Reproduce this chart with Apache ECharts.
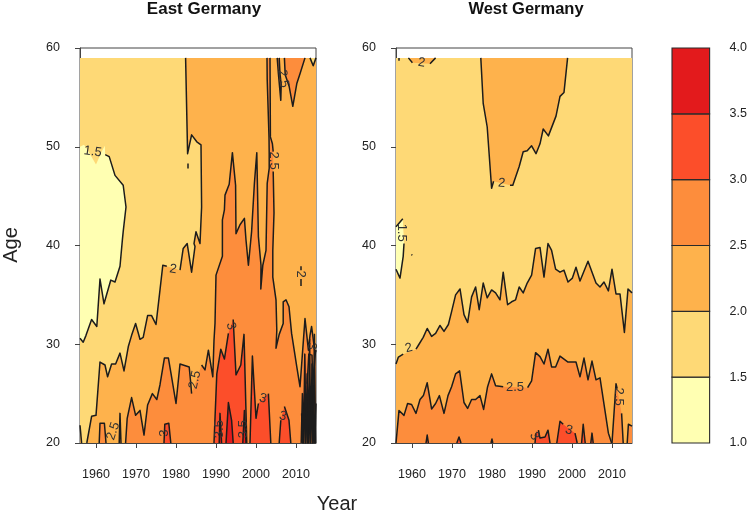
<!DOCTYPE html>
<html><head><meta charset="utf-8">
<style>html,body{margin:0;padding:0;background:#fff}#c{width:750px;height:514px}</style>
<script src="https://cdn.jsdelivr.net/npm/echarts@6/dist/echarts.min.js"></script>
</head><body><div id="c"></div>
<script>
const G = null; // gap in a contour line, where a label sits
const levels = [1, 1.5, 2, 2.5, 3, 3.5, 4];
const colors = ['#FFFFB2', '#FED976', '#FEB24C', '#FD8D3C', '#FC4E2A', '#E31A1C'];
const xTicks = [1960, 1970, 1980, 1990, 2000, 2010];

// ---------- East Germany contours [year, age] ----------
const e15Teeth = [[1956,50],[1957,50.2],[1958,49.6],[1960,48.2],[1961.4,49.5],[1962.2,50.1]];
const e15 = [[1962.3,49.2],[1963.3,49],[1964.75,47.1],[1966.8,46.1],[1967.5,43.9],[1966.8,41.4],[1966.6,40.6],[1966,37.9],[1964.75,36.3],[1963.7,36.5],[1962,34.1],[1961,36.6],[1960.2,31.8],[1958.9,32.5],[1957.5,30.9],[1956.8,30.2],[1956,30.6]];
const e20 = [[1957.7,20],[1958.9,22.7],[1960,22.8],[1961,28.2],[1962.25,27.9],[1962.9,26.7],[1963.9,28],[1964.9,28],[1966,29.1],[1967,27.3],[1968.1,29.8],[1968.9,30.9],[1969.9,32.1],[1971,30.5],[1971.8,30.7],[1972.9,32.9],[1973.9,32.9],[1975,32],[1976,35.5],[1976.7,38],[1977.7,37.9],G,[1981,37.5],[1981.8,39.7],[1982.8,40.2],[1983.9,37.3],[1984.75,39.9],[1984.5,40.2],[1985,41.4],[1986,40.2],[1986.4,43.9],[1986.25,50.2],[1985.2,50.5],[1983.9,51.2],[1982.9,49.3],[1982.4,59]];
const e20Corner = [[1956,20],[1956.4,20],[1956,21.8]];
const e20Dash = [[1983,48.3],[1983,47.8]];
const e20Island = [[2011.25,37.9],[2011.25,37.5],G,[2011.25,36.6],[2011.25,35.9]];
const e20Notch = [[2013.5,59],[2014.3,58.2],[2015,59]];
const e25a = [[1960.8,20],[1961,22],[1962.1,22],[1962.5,20]];
const e25b = [[1965.8,20],[1966,23],[1966.25,20]];
const e25Main = [[1967.4,20],[1967.8,22.5],[1968.9,24.6],[1969.9,22.8],[1971,23.3],[1972,20.8],[1972.9,23.85],[1974.1,25],[1975.2,24.4],[1976,25.9],[1977.1,28.6],[1978.1,28.6],[1978.75,27.06],[1980,24],[1981,28],[1983.3,27.7],[1983.7,26],[1983.9,25],G,[1986.4,27.9],[1987.25,27.4],[1988.1,29.4],[1989.2,26.7],[1989.5,30.4],[1989.75,32.1],[1990,37],[1991.6,38.9],[1991.6,42.6],[1992.1,43.6],[1992.25,45.1],[1993.3,46.2],[1994.1,49.4],[1994.9,46.1],[1995,41.2],[1996,42.1],[1997.1,42.75],[1997.5,40.55],[1998.1,38],[1998.7,40.56],[1998.9,41.4],[1999.6,46.3],[2000.2,49.4],[2000.6,40.9],[2001.25,38],[2001.2,35.6],[2001.7,38],[2002.5,39.5],[2002.8,46.3],[2003.3,47.8],[2003.3,49.3],[2003.25,51],[2002.8,56.8],[2002.75,59]];
const e25Main2 = [[2003.5,59],[2003.6,51],[2004.1,50.3],[2004.3,49.5],G,[2004.3,47.5],[2004.5,43.3],[2004.2,39.5],[2004.2,36.8],[2005,34.5],[2005.2,31.4],[2005,29.6],[2005.8,31],[2006.8,32.1],[2006.8,34.3],[2007.5,34.5],[2008.25,33.8],[2008.9,31.1],[2010.2,27.7],[2011,25.7],[2012.25,32.6],[2013.1,29.4],[2013.5,30.9],[2013.9,31.8],[2014.75,29.1],[2015,29.4]];
const e25Top1 = [[2005.3,59],[2005.6,57.4],[2006.2,54.7],[2006.3,56.3],[2006,57.4],[2005.8,59]];
const e25Top2 = [[2007.1,59],[2007.3,57.3],[2008.3,56.1],[2009.2,54.1],[2010.2,56.4],[2011,57.4],[2012.25,59]];
const e30a = [[1977,20],[1977.2,21.9],[1978.2,22],[1978.7,20]];
const e30b = [[1989.5,20],[1990.2,27],[1991.2,29.5],[1992.1,28.5],[1993.1,31.1],G,[1994.3,32.5],[1995,26.9],[1996.2,27.9],[1997,31],[1997.7,20]];
const e30c = [[1998.5,20],[1999.1,28.8],[2000,22.5],[2000.6,24],G,[2003.1,25],[2003.7,20]];
const e30d = [[2005.8,20],[2006.2,22.3],G,[2007.1,23.7],[2008.25,22.3],[2008.7,20]];
const e30e = [[2011.8,24],[2012.4,29],[2012.9,24]];
const e30f = [[2013.6,24],[2014,29],[2014.4,24]];
const e35a = [[1990.8,20],[1991,23],[1991.4,20]];
const e35b = [[1992.5,20],[1993.1,24.1],[1993.9,22.3],[1994.3,20]];
const e35c = [[1996.7,20],[1997.1,23.3],[1997.5,20]];
const eMess1 = [[2011.3,20],[2011.6,25],[2011.9,20],[2012.2,29],[2012.5,20],[2012.8,27],[2013.1,20],[2013.4,30.5],[2013.7,20],[2014,28],[2014.3,20],[2014.6,31],[2014.9,20]];
const eMess2 = [[2011.4,23],[2011.7,20],[2012,24],[2012.3,20],[2012.6,23.5],[2012.9,20],[2013.2,25],[2013.5,20],[2013.8,24],[2014.1,20],[2014.4,25],[2014.7,20],[2015,24]];
const eMess3 = [[2012.8,26],[2013.3,25.9],[2013.2,29],[2014,28.9],[2014.2,26],[2014.9,29.4]];
const eLabels = [
  ['1.5',1959.2,49.5,-8],['2',1979.3,37.6,-8],['2.5',1964.3,21.2,72],['2.5',1984.75,26.4,78],
  ['3',1977.1,21,90],['3',1993.7,31.85,-75],['3',2001.7,24.5,-15],['3',2006.7,22.7,-15],
  ['2',2011.25,37.1,-90],['3.5',1990.9,21.4,90],['3.5',1996.8,21.4,90],['2.5',2004.3,48.6,-90],
  ['2.5',2006.8,56.9,-80],['3',2014,29.8,-90]
];

// ---------- West Germany contours [year, age] ----------
const w15 = [[1956,41.9],[1957.7,42.7],G,[1958,40.2],[1957.8,38.9],[1957,36.7],[1956,37.6]];
const w15Dot = [[1959.9,39.1],[1960,39]];
const w20Dot = [[1956.75,59],[1956.75,58.7]];
const w20Spot = [[1959.1,59],[1960.1,58.5],G,[1964.5,58.4],[1965.9,59]];
const w20Top = [[1977.2,59],[1977.8,54.4],[1978.8,52],[1979.9,45.8],[1980.4,46.5],G,[1984.5,46.1],[1985.2,46.1],[1986.8,48],[1987.8,49.5],[1988.8,49.6],[1989.9,50.1],[1991,49.3],[1992,50.3],[1992.8,51.8],[1994.1,51.1],[1996,53.1],[1997,55.1],[1998,55.5],[1998.9,59]];
const w20Low = [[1956,28],[1956.6,28.7],[1957.8,29],G,[1961,29.5],[1961.6,29.9],[1962.8,30.7],[1963.8,31.6],[1964.9,30.8],[1965.9,31.1],[1967,31.9],[1968,31.3],[1969.1,32],[1969.9,33.3],[1970.9,35],[1972,35.6],[1973,33],[1973.9,32.2],[1974.9,34.8],[1975.9,35.8],[1976.8,33.5],[1977.8,36.2],[1978.8,34.7],[1979.9,35.5],[1980.9,35.2],[1982,34.5],[1982.8,37.3],[1983.9,34],[1984.9,34.3],[1985.9,34.5],[1986.8,35.8],[1987.8,35.2],[1988.8,36.2],[1989.9,37],[1990.9,39.7],[1992,39.8],[1993,36.8],[1994,40.2],[1994.9,39.5],[1995.9,37.6],[1997,37.3],[1998,37.5],[1999,36.3],[2000.1,36.7],[2001,37.8],[2002,36.4],[2004,38.4],[2006,36.2],[2007,35.8],[2008,36.3],[2009.1,35.4],[2010,37.6],[2011,35.1],[2012,35.1],[2013.1,31.2],[2014,35.6],[2015,35.2]];
const w25Main = [[1956,20],[1956.75,23.3],[1958,22.8],[1958.9,24],[1959.9,23.9],[1961,23],[1962,24.4],[1962.85,24.8],[1963.8,26.1],[1964.9,23.45],[1965.9,24],[1966.85,24.8],[1968,23],[1969,24.8],[1969.9,25.7],[1970.9,27],[1971.9,27.3],[1973,24.1],[1973.9,23.5],[1974.9,24.4],[1975.9,24.4],[1977,24.8],[1977.9,23.4],[1978.9,25.7],[1979.9,27],[1980.9,25.8],[1982.8,25.7],G,[1988.9,25.6],[1989.9,26.3],[1990.9,29.15],[1992,28.75],[1993,28],[1994,29.5],[1994.9,27.7],[1995.9,27.7],[1997,28.8],[1999,28.2],[2001,28.2],[2002,26.7],[2003,28.6],[2004,26.4],[2005,28.3],[2006,26.4],[2007,26.6],[2009.1,21],[2009.9,20]];
const w25b = [[2010,20],[2011,26],[2011.3,25.5],G,[2012.4,23],[2012.8,20]];
const w25c = [[2013.8,20],[2014.1,21.9],[2015,21.7]];
const w30a = [[1963.5,20],[1963.8,20.8],[1964.1,20]];
const w30b = [[1971.2,20],[1971.75,20.6],[1972.25,20]];
const w30c = [[1979.75,20],[1980,20.4],[1980.2,20]];
const w30d = [[1990.75,20],[1991,21],G,[1991.6,21.3],[1992,20.5],[1993.25,20.6],[1994,21.3],[1994.5,20]];
const w30e = [[1996.2,20],[1997,22.2],[1997.8,21.9],G,[2000.75,21],[2001.3,20]];
const w30f = [[2002.4,20],[2002.8,21.9],[2003.3,20]];
const w30g = [[2004.7,20],[2005,21],[2005.3,20]];
const wLabels = [
  ['1.5',1957.4,41.3,-90],['2',1962.4,58.5,-8],['2',1982.4,46.3,-5],['2',1959.2,29.6,15],
  ['2.5',1985.75,25.6,0],['3',1990.6,20.7,-60],['3',1999.25,21.3,-15],['2.5',2011.7,24.7,-90]
];

const panels = [
  { name:'east', fills:[
      [e15Teeth.concat(e15),0], [e20.concat([[2015,59],[2015,20]]),2], [e20Corner,2], [e20Notch,1],
      [e25a,3], [e25b,3], [e25Main.concat(e25Main2,[[2015,20]]),3], [e25Top1,3], [e25Top2,3],
      [e30a,4], [e30b,4], [e30c,4], [e30d,4], [e30e,4], [e30f,4], [e35a,5], [e35b,5], [e35c,5] ],
    lines:[e15,e20,e20Corner.slice(1),e20Dash,e20Island,e20Notch,e25a,e25b,e25Main,e25Main2,e25Top1,e25Top2,e30a,e30b,e30c,e30d,e35a,e35b,e35c,eMess1,eMess2,eMess3],
    labels:eLabels },
  { name:'west', fills:[
      [w15,0], [w20Low.concat([[2015,20],[1956,20]]),2], [w20Top,2], [w20Spot,2],
      [w25Main,3], [w25b,3], [w25c.concat([[2015,20]]),3],
      [w30a,4], [w30b,4], [w30c,4], [w30d,4], [w30e,4], [w30f,4], [w30g,4] ],
    lines:[w15,w15Dot,w20Dot,w20Spot,w20Top,w20Low,w25Main,w25b,w25c,w30a,w30b,w30c,w30d,w30e,w30f,w30g],
    labels:wLabels }
];

const FONT = '"Liberation Sans", Arial, sans-serif';
const INK = '#1c1c1c';
const series = [];
function polygonSeries(pts, color, axis, stroke) {
  const clean = pts.filter(p => p);
  series.push({ type:'custom', coordinateSystem:'cartesian2d', xAxisIndex:axis, yAxisIndex:axis, silent:true,
    data:clean, encode:{x:0,y:1}, animation:false,
    renderItem:(params, api) => params.dataIndex !== 0 ? null : ({
      type:'polygon', shape:{ points:clean.map(p => api.coord(p)) },
      style:{ fill:color, stroke:stroke||null, lineWidth:stroke?1.1:0 }
    })});
}
panels.forEach((p, i) => {
  polygonSeries([[1956,20],[2015,20],[2015,59],[1956,59]], colors[1], i);
  p.fills.forEach(([pts, c]) => polygonSeries(pts, colors[c], i));
  p.lines.forEach(l => series.push({ type:'line', xAxisIndex:i, yAxisIndex:i, silent:true, animation:false,
    symbol:'none', clip:true, connectNulls:false, z:3,
    lineStyle:{ color:INK, width:1.5, join:'round' },
    data:l.map(q => q ? q : ['-','-']) }));
  series.push({ type:'custom', coordinateSystem:'cartesian2d', xAxisIndex:i, yAxisIndex:i, silent:true, z:4, animation:false,
    data:p.labels.map(l => [l[1], l[2]]), encode:{x:0,y:1},
    renderItem:(params, api) => {
      const l = p.labels[params.dataIndex], c = api.coord([l[1], l[2]]);
      return { type:'text', x:c[0], y:c[1], rotation:l[3]*Math.PI/180,
        style:{ text:l[0], fontSize:13, fontFamily:FONT, fill:'#333', align:'center', verticalAlign:'middle' } };
    }});
});
// colour key
levels.slice(0,-1).forEach((lo, k) => {
  const hi = levels[k+1];
  polygonSeries([[0,lo],[1,lo],[1,hi],[0,hi]], colors[k], 2, '#2a2a2a');
});

const tx = { color:'#222', fontSize:12.5, fontFamily:FONT };
const axLine = { show:true, onZero:false, lineStyle:{ color:'#444', width:1 } };
const xAxisFor = gi => ({ type:'value', gridIndex:gi, min:1956, max:2015, splitLine:{show:false},
  axisLine:axLine,
  axisTick:{ show:true, length:5, customValues:xTicks, lineStyle:{color:'#444'} },
  axisLabel:{ ...tx, margin:25, customValues:xTicks, formatter:v => String(v) } });
const yAxisFor = gi => ({ type:'value', gridIndex:gi, min:20, max:60, interval:10, splitLine:{show:false},
  axisLine:axLine, axisTick:{ show:true, length:5, lineStyle:{color:'#444'} },
  axisLabel:{ ...tx, margin:20 } });
const box = { show:true, top:48, height:395, width:236, borderColor:'#444', borderWidth:1, backgroundColor:'#fff', containLabel:false };

const chart = echarts.init(document.getElementById('c'), null, { renderer:'canvas' });
chart.setOption({
  animation:false, backgroundColor:'#fff',
  grid:[ {...box,left:80}, {...box,left:396}, { left:672, width:39, top:48, height:395, show:false } ],
  xAxis:[ xAxisFor(0), xAxisFor(1), { type:'value', gridIndex:2, min:0, max:1, show:false } ],
  yAxis:[ yAxisFor(0), yAxisFor(1),
    { type:'value', gridIndex:2, min:1, max:4, interval:0.5, position:'right', splitLine:{show:false},
      axisLine:{show:false}, axisTick:{show:false},
      axisLabel:{ ...tx, margin:20, formatter:v => v.toFixed(1) } } ],
  graphic:[
    { type:'text', x:204, y:1, silent:true, style:{ text:'East Germany', font:'bold 17px '+FONT, fill:'#111', align:'center' } },
    { type:'text', x:526, y:1, silent:true, style:{ text:'West Germany', font:'bold 16.5px '+FONT, fill:'#111', align:'center' } },
    { type:'text', x:337, y:504, silent:true, style:{ text:'Year', font:'20px '+FONT, fill:'#222', align:'center', verticalAlign:'middle' } },
    { type:'text', x:11, y:245, rotation:Math.PI/2, silent:true, style:{ text:'Age', font:'20px '+FONT, fill:'#222', align:'center', verticalAlign:'middle' } }
  ],
  series
});
</script></body></html>
